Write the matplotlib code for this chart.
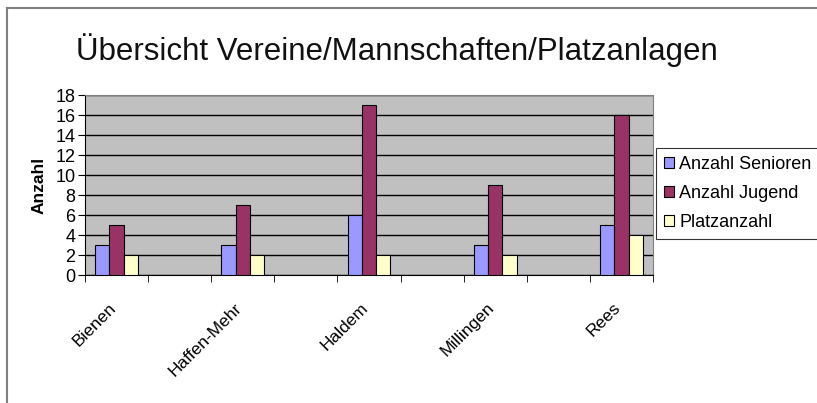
import numpy as np
import matplotlib
matplotlib.use("Agg")
import matplotlib.pyplot as plt
from matplotlib.lines import Line2D

plt.rcParams['font.family'] = ['Liberation Sans', 'DejaVu Sans']

# data
orte = ['Bienen', 'Haffen-Mehr', 'Haldem', 'Millingen', 'Rees']
senioren = [3, 3, 6, 3, 5]
jugend = [5, 7, 17, 9, 16]
plaetze = [2, 2, 2, 2, 4]
serien = ['Anzahl Senioren', 'Anzahl Jugend', 'Platzanzahl']
farben = ['#9999FF', '#993366', '#FFFFCC']

fig = plt.figure(figsize=(8.17, 4.03), dpi=100)
ax = fig.add_axes([85 / 817, 1 - 275 / 403, (653 - 85) / 817, 180 / 403])

# every second category slot is empty, like in the original sheet
x = np.arange(len(orte)) * 2
w = 0.226
for i, (werte, name) in enumerate(zip([senioren, jugend, plaetze], serien)):
    ax.bar(x + (i - 1) * w, werte, width=w, color=farben[i], edgecolor='black',
           linewidth=0.8, label=name, zorder=3)

ax.set_facecolor('#C0C0C0')
ax.set_xlim(-0.5, 2 * len(orte) - 1.5)
ax.set_ylim(0, 18)
ax.set_yticks(range(0, 19, 2))
ax.yaxis.grid(True, color='black', linewidth=1.0, zorder=1)
ax.tick_params(axis='y', direction='out', length=5, labelsize=13, pad=2)

ax.set_xticks(np.arange(-0.5, 2 * len(orte) - 1, 1), minor=True)
ax.set_xticks(x - 0.05)
ax.set_xticklabels(orte, rotation=45, ha='right', va='center',
                   rotation_mode='anchor', fontsize=12.5)
ax.tick_params(axis='x', which='major', length=0, pad=22)
ax.tick_params(axis='x', which='minor', direction='out', length=5)

for side in ['top', 'right']:
    ax.spines[side].set_color('#808080')
ax.spines['left'].set_color('black')
ax.spines['bottom'].set_color('black')

ax.set_ylabel('Anzahl', fontsize=12.5, fontweight='bold', labelpad=6)

fig.text(397 / 817, 1 - 50 / 403, 'Übersicht Vereine/Mannschaften/Platzanlagen',
         fontsize=22.5, ha='center', va='center', color='#111111')

leg = fig.legend(loc='upper left', bbox_to_anchor=(656 / 817, 1 - 148 / 403),
                 fontsize=13, frameon=True, fancybox=False, edgecolor='black',
                 handlelength=0.55, handleheight=0.55, handletextpad=0.3,
                 borderpad=0.45, labelspacing=0.65, borderaxespad=0)
leg.get_frame().set_linewidth(0.8)

# outer chart border (only top and left visible in the crop)
fig.add_artist(Line2D([7 / 817, 1], [1 - 8 / 403, 1 - 8 / 403], color='#808080', linewidth=1.5))
fig.add_artist(Line2D([7 / 817, 7 / 817], [0, 1 - 8 / 403], color='#808080', linewidth=1.5))

fig.savefig('out.png', dpi=100)
